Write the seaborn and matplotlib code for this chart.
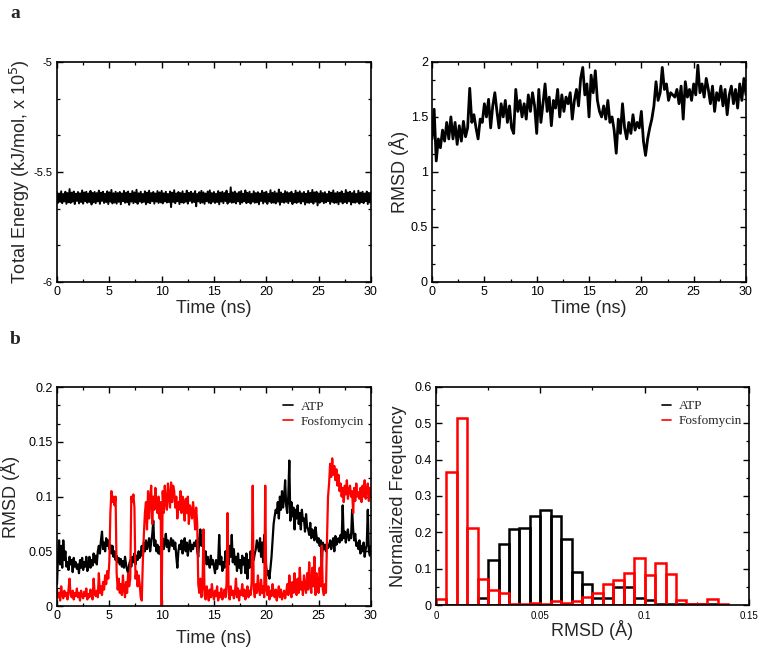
import numpy as np
import pandas as pd
import matplotlib
matplotlib.use("Agg")
import matplotlib.pyplot as plt
from matplotlib.ticker import MultipleLocator, AutoMinorLocator, FormatStrFormatter
import seaborn as sns

# =========================
# DATA
# =========================
# total energy, units of 1e5 kJ/mol x 1000, every 0.1 ns
energy_milli = [
    -5592, -5640, -5598, -5636, -5588, -5642, -5600, -5634, -5590, -5645,
    -5596, -5638, -5578, -5641, -5594, -5635, -5589, -5646, -5599, -5632,
    -5591, -5643, -5597, -5637, -5584, -5644, -5593, -5633, -5590, -5640,
    -5598, -5636, -5586, -5648, -5595, -5638, -5591, -5642, -5596, -5634,
    -5585, -5645, -5594, -5632, -5590, -5641, -5599, -5637, -5588, -5646,
    -5593, -5635, -5582, -5643, -5597, -5639, -5590, -5644, -5596, -5636,
    -5591, -5647, -5598, -5633, -5586, -5640, -5594, -5638, -5589, -5649,
    -5599, -5635, -5587, -5642, -5593, -5637, -5581, -5645, -5597, -5634,
    -5590, -5640, -5600, -5636, -5588, -5647, -5594, -5639, -5585, -5642,
    -5596, -5633, -5591, -5644, -5598, -5635, -5587, -5641, -5593, -5638,
    -5586, -5643, -5597, -5634, -5590, -5639, -5600, -5637, -5589, -5660,
    -5594, -5636, -5583, -5642, -5598, -5633, -5591, -5646, -5596, -5638,
    -5588, -5641, -5599, -5635, -5585, -5644, -5595, -5632, -5590, -5640,
    -5597, -5637, -5587, -5656, -5600, -5634, -5592, -5642, -5586, -5639,
    -5593, -5645, -5598, -5633, -5589, -5640, -5584, -5643, -5596, -5636,
    -5591, -5641, -5599, -5637, -5587, -5647, -5594, -5635, -5590, -5642,
    -5596, -5632, -5585, -5644, -5600, -5636, -5570, -5640, -5593, -5638,
    -5589, -5643, -5597, -5634, -5591, -5646, -5587, -5639, -5599, -5633,
    -5584, -5642, -5595, -5637, -5590, -5644, -5600, -5635, -5588, -5640,
    -5596, -5638, -5592, -5647, -5598, -5632, -5586, -5643, -5594, -5636,
    -5590, -5645, -5600, -5634, -5583, -5641, -5595, -5639, -5589, -5643,
    -5597, -5635, -5580, -5649, -5593, -5637, -5599, -5640, -5587, -5636,
    -5592, -5642, -5596, -5633, -5590, -5646, -5600, -5638, -5585, -5641,
    -5594, -5636, -5588, -5643, -5597, -5634, -5591, -5648, -5599, -5639,
    -5586, -5641, -5595, -5637, -5582, -5644, -5593, -5635, -5590, -5652,
    -5598, -5640, -5587, -5634, -5596, -5642, -5592, -5638, -5600, -5633,
    -5589, -5645, -5594, -5636, -5584, -5641, -5597, -5639, -5591, -5647,
    -5595, -5635, -5588, -5643, -5599, -5637, -5582, -5642, -5593, -5634,
    -5590, -5648, -5596, -5638, -5587, -5640, -5600, -5636, -5585, -5644,
    -5594, -5637, -5590, -5642, -5598, -5633, -5589, -5646, -5595, -5639,
    -5592,
]

# protein RMSD (A), every 0.2 ns
protein_rmsd = [
    1.30, 1.57, 1.10, 1.30, 1.22, 1.38, 1.28, 1.45, 1.30, 1.50,
    1.30, 1.45, 1.25, 1.42, 1.28, 1.46, 1.32, 1.40, 1.76, 1.45,
    1.52, 1.40, 1.30, 1.48, 1.45, 1.62, 1.50, 1.66, 1.40, 1.60,
    1.72, 1.55, 1.40, 1.62, 1.50, 1.65, 1.45, 1.60, 1.40, 1.35,
    1.75, 1.55, 1.65, 1.50, 1.62, 1.48, 1.70, 1.55, 1.72, 1.60,
    1.35, 1.75, 1.45, 1.62, 1.80, 1.55, 1.68, 1.42, 1.65, 1.58,
    1.75, 1.50, 1.70, 1.55, 1.68, 1.62, 1.72, 1.48, 1.65, 1.75,
    1.60, 1.85, 1.95, 1.70, 1.80, 1.50, 1.88, 1.72, 1.92, 1.65,
    1.55, 1.50, 1.60, 1.48, 1.65, 1.45, 1.50, 1.38, 1.17, 1.48,
    1.35, 1.62, 1.40, 1.30, 1.45, 1.35, 1.52, 1.38, 1.45, 1.40,
    1.55, 1.28, 1.15, 1.30, 1.40, 1.48, 1.60, 1.82, 1.65, 1.72,
    1.95, 1.75, 1.80, 1.65, 1.72, 1.70, 1.68, 1.75, 1.62, 1.78,
    1.48, 1.82, 1.68, 1.75, 1.65, 1.80, 1.70, 1.97, 1.72, 1.80,
    1.68, 1.85, 1.75, 1.62, 1.78, 1.55, 1.72, 1.65, 1.78, 1.60,
    1.75, 1.52, 1.70, 1.78, 1.62, 1.75, 1.58, 1.80, 1.65, 1.85,
    1.70,
]

# ligand RMSD in milli-Angstrom, every 0.1 ns
atp_milli = [
    20, 45, 60, 38, 55, 35, 60, 42, 50, 36,
    40, 33, 45, 38, 42, 31, 44, 36, 40, 34,
    38, 30, 42, 35, 44, 33, 40, 36, 45, 32,
    38, 45, 35, 42, 37, 48, 40, 46, 38, 50,
    55, 48, 60, 68, 52, 58, 50, 62, 55, 60,
    52, 56, 48, 55, 45, 50, 42, 46, 40, 44,
    38, 43, 36, 41, 35, 45, 38, 33, 30, 38,
    42, 36, 45, 40, 48, 38, 46, 42, 50, 44,
    48, 55, 45, 58, 50, 60, 52, 56, 62, 50,
    58, 65, 78, 55, 60, 50, 56, 48, 54, 47,
    55, 62, 52, 58, 66, 54, 60, 50, 57, 62,
    55, 60, 52, 58, 45, 35, 50, 56, 52, 60,
    48, 55, 62, 50, 58, 46, 55, 60, 50, 56,
    52, 58, 55, 60, 50, 45, 62, 70, 55, 65,
    48, 42, 50, 38, 45, 40, 35, 46, 38, 42,
    36, 30, 42, 34, 40, 65, 38, 45, 32, 40,
    35, 50, 42, 60, 38, 55, 45, 65, 40, 52,
    38, 45, 32, 48, 35, 42, 30, 46, 38, 44,
    30, 48, 25, 42, 35, 50, 40, 46, 42, 48,
    52, 60, 55, 50, 62, 45, 58, 40, 65, 48,
    35, 28, 32, 25, 35, 45, 60, 75, 82, 88,
    85, 95, 80, 100, 88, 105, 90, 98, 115, 92,
    85, 100, 133, 78, 95, 82, 90, 70, 88, 80,
    92, 75, 85, 70, 88, 78, 80, 68, 84, 72,
    70, 65, 76, 62, 70, 66, 60, 72, 64, 58,
    62, 55, 60, 35, 58, 52, 56, 50, 57, 53,
    55, 60, 52, 58, 62, 50, 64, 56, 60, 62,
    58, 65, 60, 92, 62, 68, 58, 66, 70, 60,
    65, 62, 88, 70, 60, 66, 55, 58, 52, 60,
    48, 55, 50, 58, 45, 52, 56, 88, 50, 46,
    55,
]

fos_milli = [
    15, 8, 12, 5, 18, 10, 7, 14, 9, 12,
    6, 15, 25, 10, 8, 14, 6, 12, 9, 16,
    8, 12, 5, 14, 10, 7, 13, 9, 16, 6,
    11, 8, 15, 10, 6, 25, 12, 9, 14, 8,
    30, 12, 18, 10, 22, 15, 28, 20, 32, 25,
    40, 85, 105, 95, 100, 92, 100, 30, 15, 25,
    12, 20, 10, 28, 15, 8, 22, 12, 30, 18,
    25, 100, 95, 102, 90, 25, 32, 18, 28, 20,
    8, 5, 40, 65, 85, 95, 70, 105, 80, 98,
    110, 75, 100, 88, 108, 92, 85, 100, 80, 95,
    0, 105, 85, 110, 95, 88, 112, 100, 90, 113,
    95, 110, 105, 90, 100, 80, 95, 88, 105, 85,
    100, 92, 78, 98, 85, 100, 75, 92, 88, 80,
    95, 85, 70, 90, 75, 20, 12, 25, 8, 18,
    70, 10, 6, 18, 12, 5, 15, 8, 20, 10,
    6, 14, 9, 18, 5, 12, 8, 16, 6, 10,
    15, 8, 20, 85, 12, 6, 18, 10, 14, 7,
    12, 25, 8, 16, 5, 14, 10, 20, 9, 15,
    6, 12, 18, 8, 14, 10, 22, 110, 15, 8,
    20, 12, 28, 15, 10, 24, 12, 18, 8, 110,
    15, 10, 18, 6, 14, 9, 20, 12, 8, 15,
    5, 12, 18, 8, 15, 6, 10, 14, 7, 12,
    20, 10, 28, 15, 8, 22, 12, 30, 18, 10,
    25, 12, 35, 15, 22, 10, 28, 18, 12, 30,
    15, 40, 20, 12, 35, 18, 45, 10, 30, 22,
    12, 35, 18, 55, 15, 10, 20, 12, 60, 100,
    112, 130, 118, 135, 120, 128, 115, 125, 110, 120,
    105, 112, 100, 108, 95, 110, 102, 115, 98, 106,
    110, 100, 105, 85, 108, 96, 112, 100, 104, 98,
    108, 95, 110, 100, 115, 98, 105, 112, 96, 108,
    100,
]

# normalized histograms, bins of 0.005 A from 0 to 0.14
atp_hist = [
    0.0, 0.0, 0.0, 0.0, 0.020, 0.125, 0.168, 0.210, 0.212, 0.246,
    0.262, 0.246, 0.182, 0.092, 0.058, 0.018, 0.020, 0.050, 0.050, 0.018,
    0.015, 0.003, 0.003, 0.003, 0.002, 0.002, 0.002, 0.0,
]
fos_hist = [
    0.017, 0.365, 0.515, 0.213, 0.072, 0.040, 0.032, 0.003, 0.003, 0.005,
    0.004, 0.010, 0.005, 0.010, 0.021, 0.034, 0.058, 0.068, 0.088, 0.128,
    0.082, 0.115, 0.085, 0.013, 0.003, 0.002, 0.017, 0.003,
]

# =========================
# STYLE
# =========================
sns.set_style("ticks")
plt.rcParams["font.family"] = ["Liberation Sans", "DejaVu Sans"]
plt.rcParams.update({
    "path.simplify": False,
    "xtick.direction": "in", "ytick.direction": "in",
    "xtick.top": True, "ytick.right": True,
    "xtick.major.size": 4, "ytick.major.size": 4,
    "xtick.minor.size": 2.5, "ytick.minor.size": 2.5,
    "xtick.major.width": 1, "ytick.major.width": 1,
    "xtick.minor.width": 0.9, "ytick.minor.width": 0.9,
    "axes.linewidth": 1.2,
    "axes.edgecolor": "black",
    "xtick.color": "black", "ytick.color": "black",
})

fig = plt.figure(figsize=(7.62, 6.55), dpi=100)
ax1 = fig.add_axes([0.0748, 0.5695, 0.412, 0.336])
ax2 = fig.add_axes([0.567, 0.5695, 0.412, 0.336])
ax3 = fig.add_axes([0.0748, 0.0748, 0.412, 0.334])
ax4 = fig.add_axes([0.572, 0.0763, 0.411, 0.333])

t_fine = np.linspace(0, 30, len(energy_milli))
t_prot = np.linspace(0, 30, len(protein_rmsd))
t_lig = np.linspace(0, 30, len(atp_milli))

# =========================
# a: energy + protein RMSD
# =========================
sns.lineplot(x=t_fine, y=np.array(energy_milli) / 1000, color="black",
             linewidth=1.4, estimator=None, ax=ax1)
ax1.set_xlim(0, 30)
ax1.set_ylim(-6, -5)
ax1.yaxis.set_major_locator(MultipleLocator(0.5))
ax1.yaxis.set_minor_locator(AutoMinorLocator(3))
ax1.set_ylabel("Total Energy (kJ/mol, x 10$^5$)", fontsize=13)
ax1.yaxis.set_label_coords(-0.080, 0.5)

sns.lineplot(x=t_prot, y=protein_rmsd, color="black", linewidth=2.0,
             estimator=None, ax=ax2)
ax2.set_xlim(0, 30)
ax2.set_ylim(0, 2)
ax2.yaxis.set_major_locator(MultipleLocator(0.5))
ax2.yaxis.set_minor_locator(AutoMinorLocator(3))
ax2.set_ylabel("RMSD (Å)", fontsize=13)
ax2.yaxis.set_label_coords(-0.073, 0.5)

# =========================
# b: ligand RMSD + histogram
# =========================
sns.lineplot(x=t_lig, y=np.array(atp_milli) / 1000, color="black",
             linewidth=1.6, estimator=None, ax=ax3)
sns.lineplot(x=t_lig, y=np.array(fos_milli) / 1000, color="red",
             linewidth=1.6, estimator=None, ax=ax3)
ax3.set_xlim(0, 30)
ax3.set_ylim(0, 0.2)
ax3.yaxis.set_major_locator(MultipleLocator(0.05))
ax3.yaxis.set_minor_locator(AutoMinorLocator(3))
ax3.set_ylabel("RMSD (Å)", fontsize=13)
ax3.yaxis.set_label_coords(-0.118, 0.5)

for ax in (ax1, ax2, ax3):
    ax.xaxis.set_major_locator(MultipleLocator(5))
    ax.xaxis.set_minor_locator(AutoMinorLocator(2))
    ax.set_xlabel("Time (ns)", fontsize=13)
    ax.yaxis.set_major_formatter(FormatStrFormatter("%g"))
    ax.tick_params(labelsize=9, pad=3)
ax1.xaxis.set_label_coords(0.5, -0.082)
ax2.xaxis.set_label_coords(0.5, -0.082)
ax3.xaxis.set_label_coords(0.5, -0.110)
ax1.tick_params(axis="y", labelsize=8)

edges = list(np.linspace(0, 0.14, len(atp_hist) + 1))
hist_df = pd.DataFrame({
    "center": [(a + b) / 2 for a, b in zip(edges[:-1], edges[1:])],
    "atp": atp_hist,
    "fos": fos_hist,
})
sns.histplot(data=hist_df, x="center", weights="atp", bins=edges,
             element="bars", fill=False, color="black", linewidth=1.8, ax=ax4)
sns.histplot(data=hist_df, x="center", weights="fos", bins=edges,
             element="bars", fill=False, color="red", linewidth=1.8, ax=ax4)
ax4.set_xlim(0, 0.15)
ax4.set_ylim(0, 0.6)
ax4.xaxis.set_major_locator(MultipleLocator(0.05))
ax4.xaxis.set_minor_locator(AutoMinorLocator(2))
ax4.yaxis.set_major_locator(MultipleLocator(0.1))
ax4.yaxis.set_minor_locator(AutoMinorLocator(2))
ax4.xaxis.set_major_formatter(FormatStrFormatter("%g"))
ax4.yaxis.set_major_formatter(FormatStrFormatter("%g"))
ax4.tick_params(axis="y", labelsize=9, pad=3)
ax4.tick_params(axis="x", labelsize=7, pad=4)
ax4.set_xlabel("RMSD (Å)", fontsize=13)
ax4.set_ylabel("Normalized Frequency", fontsize=13)
ax4.xaxis.set_label_coords(0.5, -0.069)
ax4.yaxis.set_label_coords(-0.093, 0.5)

for ax in (ax3, ax4):
    ax.legend(handles=[plt.Line2D([], [], color="black", lw=1.2),
                       plt.Line2D([], [], color="red", lw=1.2)],
              labels=["ATP", "Fosfomycin"], loc="upper left",
              bbox_to_anchor=(0.70, 0.97), frameon=False,
              prop={"family": "Liberation Serif", "size": 9.5},
              handlelength=0.7, handletextpad=0.6, labelspacing=0.2,
              borderpad=0)

fig.text(0.013, 0.992, "a", fontsize=14, fontweight="bold",
         family="Liberation Serif", va="top")
fig.text(0.013, 0.495, "b", fontsize=14, fontweight="bold",
         family="Liberation Serif", va="top")

fig.savefig("out.png", dpi=100)
